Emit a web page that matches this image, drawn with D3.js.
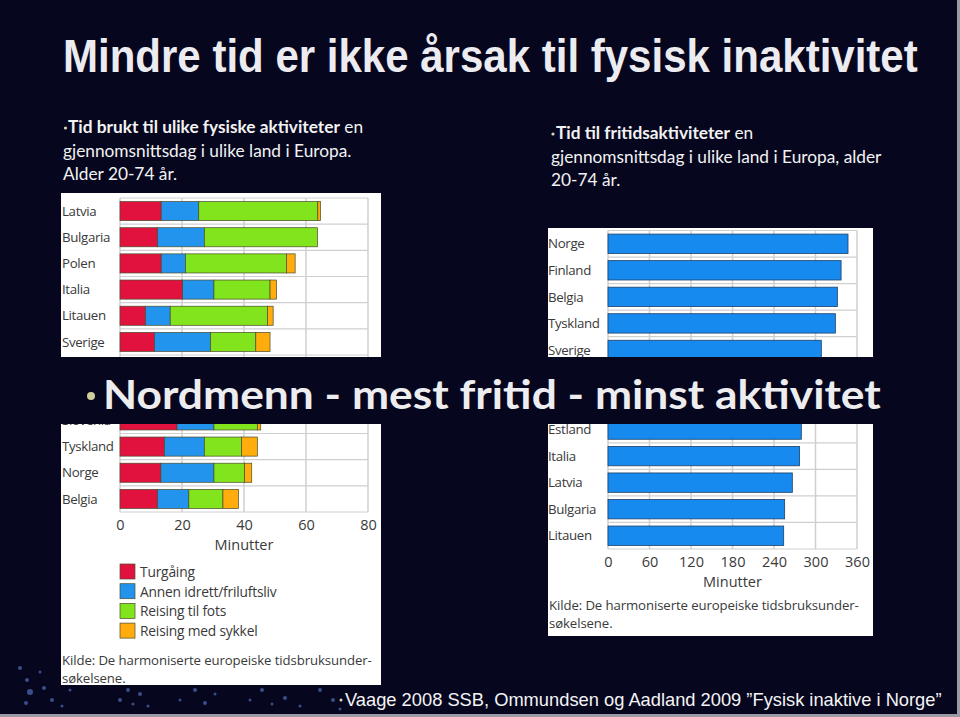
<!DOCTYPE html>
<html><head><meta charset="utf-8">
<script src="https://cdn.jsdelivr.net/npm/d3@7"></script>
<style>body{margin:0;background:#06061f;}svg{display:block;}</style>
</head><body>
<svg id="c" width="960" height="717"></svg>
<script>
// ---- Data ----
const leftCountries = ["Latvia","Bulgaria","Polen","Italia","Litauen","Sverige","Estland","Finland","Slovenia","Tyskland","Norge","Belgia"];
const turgaing      = [13.3,12.1,13.3,20.2, 8.2,11.1,12.0,14.0,18.4,14.3,13.2,12.1];
const annenIdrett   = [12.1,15.1, 7.8,10.1, 8.0,18.1,10.0,17.0,11.9,12.9,17.1,10.1];
const reisingFots   = [38.4,36.5,32.6,18.1,31.4,14.6,24.0,11.0,14.0,12.0, 9.9,11.0];
const reisingSykkel = [ 0.9, 0.0, 2.8, 2.1, 1.8, 4.6, 1.5, 4.0, 1.1, 5.1, 2.3, 5.0];
const seriesNames = ["Turgåing","Annen idrett/friluftsliv","Reising til fots","Reising med sykkel"];
const leftTicks = [0,20,40,60,80];

const rightCountries = ["Norge","Finland","Belgia","Tyskland","Sverige","Slovenia","Polen","Estland","Italia","Latvia","Bulgaria","Litauen"];
const fritid = [347,337,331.6,328.7,308.4,295,286,279.5,277,266.5,255.4,254];
const rightTicks = [0,60,120,180,240,300,360];

const colors = ["#e2123e","#2394ee","#82e41c","#ffac0c"];
const bg = "#06061f";
const bannerTop = 357, bannerBot = 424;

const svg = d3.select("#c");
svg.append("rect").attr("width",960).attr("height",717).attr("fill",bg);
svg.append("rect").attr("x",957).attr("y",0).attr("width",3).attr("height",717).attr("fill","#9a9aa4");
svg.append("rect").attr("x",0).attr("y",714).attr("width",960).attr("height",3).attr("fill","#9a9aa4");

// decorative dots bottom-left
const dots = [[20,668,2],[27,680,2],[30,692,3],[26,703,2],[40,672,1.5],[44,688,2],[52,700,2],[62,706,1.5],[70,690,1.5],
[120,700,2],[128,690,2],[133,704,1.5],[140,694,2],[148,706,1.5],[180,700,1.5],[195,690,2],[205,703,2],[215,694,1.5],
[250,700,1.5],[262,690,2],[272,704,1.5],[285,698,2],[300,706,1.5],[320,690,2],[333,700,2],[340,709,1.5]];
svg.append("g").selectAll("circle").data(dots).join("circle")
  .attr("cx",d=>d[0]).attr("cy",d=>d[1]).attr("r",d=>d[2]).attr("fill","#5d7fd0").attr("opacity",0.6);

// fit a text horizontally to a given width by scaling around its x
function fitWidth(sel, x, width){
  const w = sel.node().getComputedTextLength();
  if (w > 0) sel.attr("transform",`translate(${x},0) scale(${width/w},1) translate(${-x},0)`);
}

// ---- Title ----
const title = svg.append("text").attr("x",63).attr("y",72)
  .attr("font-family","'Liberation Sans Narrow','Arial Narrow','Liberation Sans',sans-serif")
  .attr("font-weight","bold").attr("font-size",46).attr("fill","#ececf0")
  .text("Mindre tid er ikke årsak til fysisk inaktivitet");
fitWidth(title,63,855);

// ---- Subtitles ----
const subFont = "Lato,'Open Sans',sans-serif";
const subSize = 17.3;
function bullet(x,y,r,fill){svg.append("circle").attr("cx",x).attr("cy",y).attr("r",r).attr("fill",fill);}
bullet(65.5,128,1.6,"#d8d8b8");
let t = svg.append("text").attr("x",68).attr("y",133).attr("font-family",subFont).attr("font-size",subSize).attr("fill","#f2f2f2");
t.append("tspan").attr("font-weight","bold").text("Tid brukt til ulike fysiske aktiviteter");
t.append("tspan").text(" en");
svg.append("text").attr("x",63).attr("y",156.5).attr("font-family",subFont).attr("font-size",subSize).attr("fill","#f2f2f2").text("gjennomsnittsdag i ulike land i Europa.");
svg.append("text").attr("x",63).attr("y",180).attr("font-family",subFont).attr("font-size",subSize).attr("fill","#f2f2f2").text("Alder 20-74 år.");

bullet(553,134,1.6,"#d8d8b8");
t = svg.append("text").attr("x",556).attr("y",139).attr("font-family",subFont).attr("font-size",subSize).attr("fill","#f2f2f2");
t.append("tspan").attr("font-weight","bold").text("Tid til fritidsaktiviteter");
t.append("tspan").text(" en");
svg.append("text").attr("x",551).attr("y",162.5).attr("font-family",subFont).attr("font-size",subSize).attr("fill","#f2f2f2").text("gjennomsnittsdag i ulike land i Europa, alder");
svg.append("text").attr("x",551).attr("y",186).attr("font-family",subFont).attr("font-size",subSize).attr("fill","#f2f2f2").text("20-74 år.");

const chartFont = "'Open Sans','Noto Sans',sans-serif";
const txtCol = "#3a3a3a";
const gridCol = "#cfcfcf";
const visible = y => y < bannerTop - 4 || y > bannerBot - 6;

function source(x, y){
  const s = svg.append("text").attr("font-family",chartFont).attr("font-size",13.2).attr("fill",txtCol).attr("letter-spacing","-0.1");
  s.append("tspan").attr("x",x).attr("y",y).text("Kilde: De harmoniserte europeiske tidsbruksunder-");
  s.append("tspan").attr("x",x).attr("y",y+18.2).text("søkelsene.");
}

// ---- Left chart ----
svg.append("rect").attr("x",61).attr("y",193).attr("width",320).attr("height",492).attr("fill","#ffffff");
const xL = d3.scaleLinear().domain([0,80]).range([120,368]);
const yL = d3.scaleBand().domain(leftCountries).range([198,512]).paddingInner(0.27).paddingOuter(0.135);
const gL = svg.append("g");
gL.selectAll(".vg").data(leftTicks).join("line").attr("x1",d=>xL(d)).attr("x2",d=>xL(d)).attr("y1",198).attr("y2",512).attr("stroke",gridCol).attr("stroke-width",1.5);
const stepL = yL.step();
gL.selectAll(".hg").data(d3.range(leftCountries.length+1)).join("line")
  .attr("x1",xL(0)).attr("x2",xL(80)).attr("y1",i=>198+i*stepL).attr("y2",i=>198+i*stepL).attr("stroke",gridCol).attr("stroke-width",1.2);
const leftRows = leftCountries.map((c,i)=>({c, v:[turgaing[i],annenIdrett[i],reisingFots[i],reisingSykkel[i]]}));
const stackL = d3.stack().keys([0,1,2,3]).value((d,k)=>d.v[k])(leftRows);
gL.selectAll(".s").data(stackL).join("g").attr("fill",(d,i)=>colors[i])
  .selectAll("rect").data(d=>d.filter(p=>p[1]-p[0]>0)).join("rect")
  .attr("x",d=>xL(d[0])).attr("width",d=>xL(d[1])-xL(d[0]))
  .attr("y",d=>yL(d.data.c)).attr("height",yL.bandwidth())
  .attr("stroke","#4a4a2a").attr("stroke-width",0.7);
const axL = d3.axisBottom(xL).tickValues(leftTicks).tickSize(0).tickPadding(8);
const axLg = svg.append("g").attr("transform","translate(0,512)").call(axL);
axLg.select(".domain").remove();
axLg.selectAll("text").attr("font-family",chartFont).attr("font-size",14.5).attr("fill",txtCol);
svg.append("g").selectAll("text").data(leftCountries.filter(d=>visible(yL(d)+yL.bandwidth()/2))).join("text")
  .attr("x",62).attr("y",d=>yL(d)+yL.bandwidth()/2).attr("dy","0.35em")
  .attr("font-family",chartFont).attr("font-size",13.3).attr("fill",txtCol).attr("letter-spacing","-0.35").text(d=>d);
svg.append("text").attr("x",xL(40)).attr("y",550).attr("text-anchor","middle").attr("font-family",chartFont).attr("font-size",14.5).attr("fill",txtCol).text("Minutter");
const leg = svg.append("g").selectAll("g").data(seriesNames).join("g").attr("transform",(d,i)=>`translate(120,${564+i*19.7})`);
leg.append("rect").attr("width",15).attr("height",15).attr("fill",(d,i)=>colors[i]).attr("stroke","#4a4a2a").attr("stroke-width",0.7);
leg.append("text").attr("x",20).attr("y",8).attr("dy","0.35em").attr("font-family",chartFont).attr("font-size",13.8).attr("fill",txtCol).attr("letter-spacing","-0.2").text(d=>d);
source(62,665);

// ---- Right chart ----
svg.append("rect").attr("x",548).attr("y",228).attr("width",325).attr("height",408).attr("fill","#ffffff");
const xR = d3.scaleLinear().domain([0,360]).range([608,857]);
const yR = d3.scaleBand().domain(rightCountries).range([230.5,549]).paddingInner(0.27).paddingOuter(0.135);
const gR = svg.append("g");
gR.selectAll(".vg").data(rightTicks).join("line").attr("x1",d=>xR(d)).attr("x2",d=>xR(d)).attr("y1",230.5).attr("y2",549).attr("stroke",gridCol).attr("stroke-width",1.5);
const stepR = yR.step();
gR.selectAll(".hg").data(d3.range(rightCountries.length+1)).join("line")
  .attr("x1",xR(0)).attr("x2",xR(360)).attr("y1",i=>230.5+i*stepR).attr("y2",i=>230.5+i*stepR).attr("stroke",gridCol).attr("stroke-width",1.2);
gR.selectAll("rect").data(rightCountries).join("rect")
  .attr("x",xR(0)).attr("width",(d,i)=>xR(fritid[i])-xR(0))
  .attr("y",d=>yR(d)).attr("height",yR.bandwidth())
  .attr("fill","#178af0").attr("stroke","#1f3f66").attr("stroke-width",0.8);
const axR = d3.axisBottom(xR).tickValues(rightTicks).tickSize(0).tickPadding(8);
const axRg = svg.append("g").attr("transform","translate(0,549)").call(axR);
axRg.select(".domain").remove();
axRg.selectAll("text").attr("font-family",chartFont).attr("font-size",14.5).attr("fill",txtCol);
svg.append("g").selectAll("text").data(rightCountries.filter(d=>visible(yR(d)+yR.bandwidth()/2))).join("text")
  .attr("x",548).attr("y",d=>yR(d)+yR.bandwidth()/2).attr("dy","0.35em")
  .attr("font-family",chartFont).attr("font-size",13.3).attr("fill",txtCol).attr("letter-spacing","-0.35").text(d=>d);
svg.append("text").attr("x",xR(180)).attr("y",587).attr("text-anchor","middle").attr("font-family",chartFont).attr("font-size",14.5).attr("fill",txtCol).text("Minutter");
source(549,610);

// ---- Banner ----
svg.append("rect").attr("x",0).attr("y",bannerTop).attr("width",957).attr("height",bannerBot-bannerTop).attr("fill",bg);
bullet(91,396,4,"#cfcf9c");
const ban = svg.append("text").attr("x",103).attr("y",409).attr("font-family",subFont).attr("font-weight","bold").attr("font-size",41).attr("fill","#ededf0")
  .text("Nordmenn - mest fritid - minst aktivitet");
fitWidth(ban,103,778);

// ---- Footer ----
bullet(341,700,1.5,"#dcdcb0");
const foot = svg.append("text").attr("x",345).attr("y",706).attr("font-family","'Liberation Sans',Arial,sans-serif").attr("font-size",18).attr("fill","#f4f4f4")
  .text("Vaage 2008 SSB, Ommundsen og Aadland 2009 ”Fysisk inaktive i Norge”");
fitWidth(foot,345,597);
</script>
</body></html>
